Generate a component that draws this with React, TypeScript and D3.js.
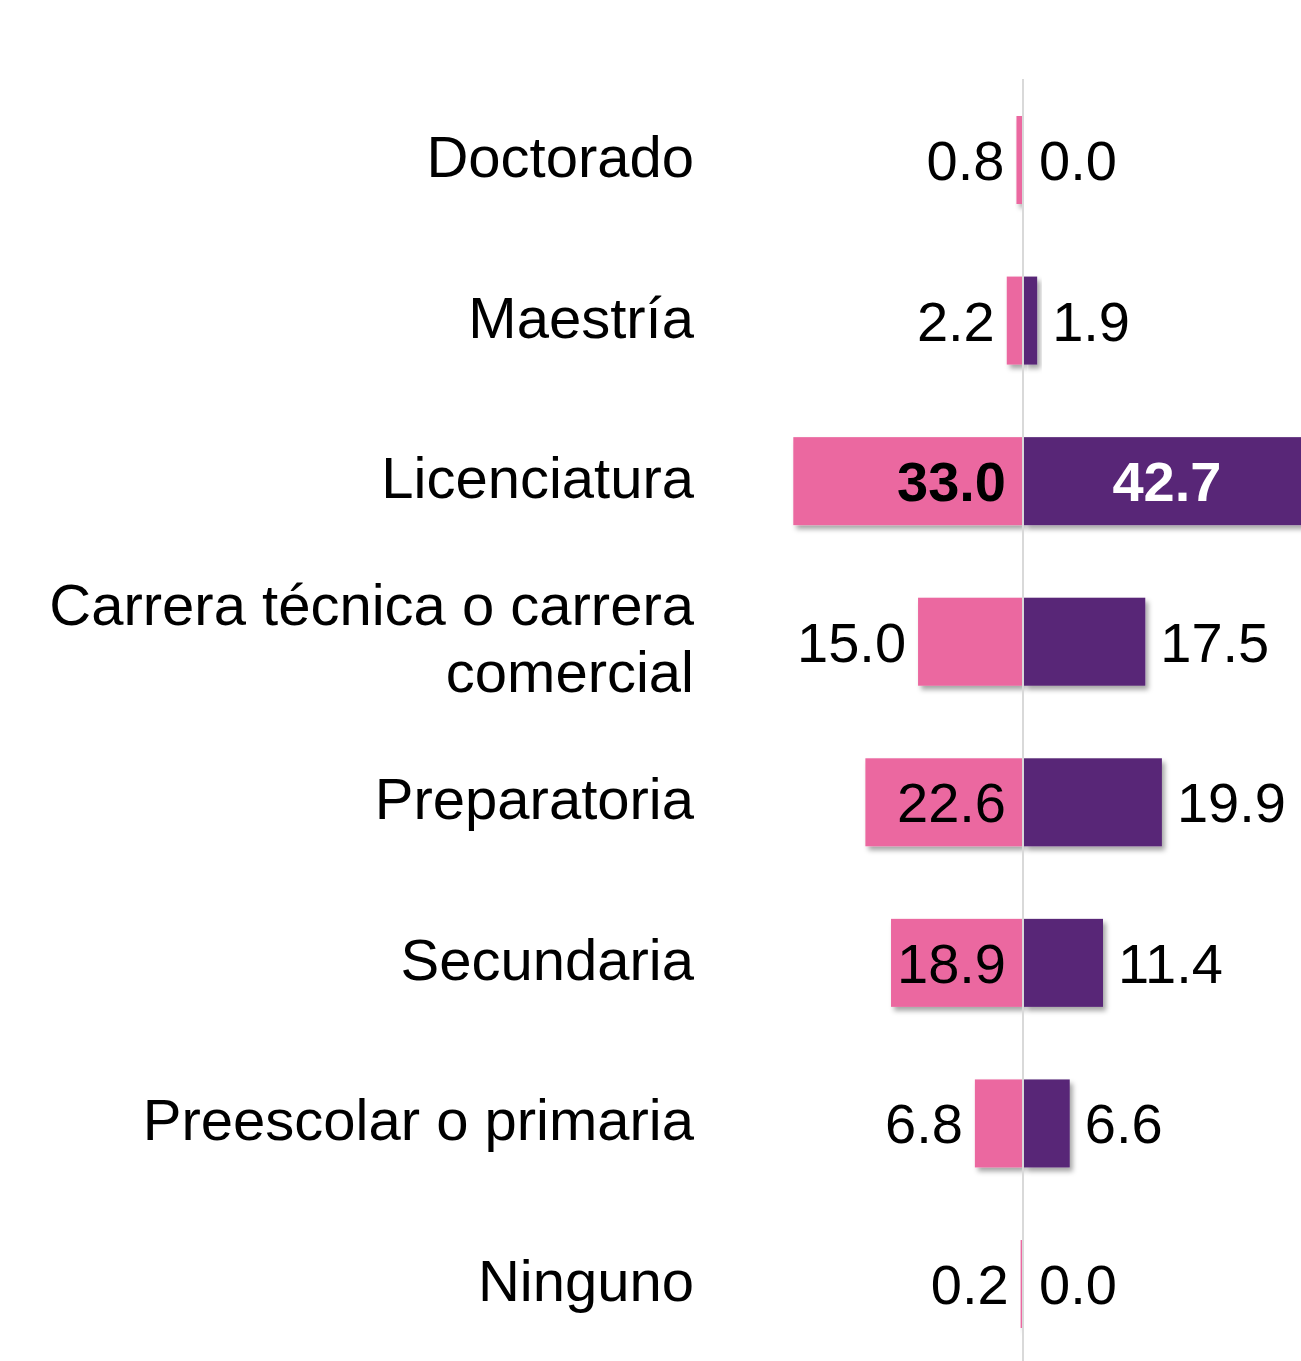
import React from "react";
import * as d3 from "d3";

const categories = [
  "Doctorado",
  "Maestría",
  "Licenciatura",
  "Carrera técnica o carrera comercial",
  "Preparatoria",
  "Secundaria",
  "Preescolar o primaria",
  "Ninguno",
];
const categoryLines = [
  ["Doctorado"],
  ["Maestría"],
  ["Licenciatura"],
  ["Carrera técnica o carrera", "comercial"],
  ["Preparatoria"],
  ["Secundaria"],
  ["Preescolar o primaria"],
  ["Ninguno"],
];
const pinkValues = [0.8, 2.2, 33.0, 15.0, 22.6, 18.9, 6.8, 0.2];
const purpleValues = [0.0, 1.9, 42.7, 17.5, 19.9, 11.4, 6.6, 0.0];
const pinkInside = [false, false, true, false, true, true, false, false];
const purpleInside = [false, false, true, false, false, false, false, false];
const highlighted = [false, false, true, false, false, false, false, false];

const W = 1301;
const H = 1361;
const CX = 1023;
const PINK = "#EB68A0";
const PURPLE = "#582777";
const FONT = "'Liberation Sans', Arial, Helvetica, sans-serif";

export default function App() {
  const y = d3.scalePoint<string>().domain(categories).range([160, 1284]);
  const xLeft = d3.scaleLinear().domain([0, 40]).range([CX - 1, CX - 1 - 40 * 6.93]);
  const xRight = d3.scaleLinear().domain([0, 40]).range([CX + 1, CX + 1 + 40 * 6.93]);
  const barH = 88;

  return (
    <svg
      width={W}
      height={H}
      style={{ position: "absolute", left: 0, top: 0, display: "block", background: "#fff" }}
      fontFamily={FONT}
    >
      <defs>
        <filter id="shadow" x="-20%" y="-20%" width="150%" height="150%">
          <feDropShadow dx="3" dy="4" stdDeviation="2.5" floodColor="#000" floodOpacity="0.35" />
        </filter>
      </defs>

      {categories.map((c, i) => {
        const cy = y(c)!;
        const lines = categoryLines[i];
        const base = cy + 17;
        const spacing = 67;
        const start = base - ((lines.length - 1) * spacing) / 2;
        return (
          <text key={"cat" + i} textAnchor="end" fontSize={58} fill="#000">
            {lines.map((l, j) => (
              <tspan key={j} x={694} y={start + j * spacing}>
                {l}
              </tspan>
            ))}
          </text>
        );
      })}

      {categories.map((c, i) => {
        const cy = y(c)!;
        const v = pinkValues[i];
        const x0 = xLeft(v);
        const w = xLeft(0) - x0;
        return w > 0 ? (
          <rect
            key={"pk" + i}
            x={x0}
            y={cy - barH / 2}
            width={w}
            height={barH}
            fill={PINK}
            filter="url(#shadow)"
          />
        ) : null;
      })}
      {categories.map((c, i) => {
        const cy = y(c)!;
        const v = purpleValues[i];
        const x0 = xRight(0);
        const w = xRight(v) - x0;
        return w > 0 ? (
          <rect
            key={"pu" + i}
            x={x0}
            y={cy - barH / 2}
            width={w}
            height={barH}
            fill={PURPLE}
            filter="url(#shadow)"
          />
        ) : null;
      })}

      <line x1={CX} x2={CX} y1={79} y2={H} stroke="#d9d9d9" strokeWidth={2} />

      {categories.map((c, i) => {
        const cy = y(c)!;
        const v = pinkValues[i];
        const inside = pinkInside[i];
        const xPos = inside ? CX - 17 : xLeft(v) - 12;
        return (
          <text
            key={"pl" + i}
            x={xPos}
            y={cy + 20}
            textAnchor="end"
            fontSize={56}
            fontWeight={highlighted[i] ? "bold" : "normal"}
            fill="#000"
          >
            {v.toFixed(1)}
          </text>
        );
      })}
      {categories.map((c, i) => {
        const cy = y(c)!;
        const v = purpleValues[i];
        const inside = purpleInside[i];
        const xPos = inside ? (xRight(0) + xRight(v)) / 2 - 5 : xRight(v) + 15;
        return (
          <text
            key={"ul" + i}
            x={xPos}
            y={cy + 20}
            textAnchor={inside ? "middle" : "start"}
            fontSize={56}
            fontWeight={highlighted[i] ? "bold" : "normal"}
            fill={inside ? "#fff" : "#000"}
          >
            {v.toFixed(1)}
          </text>
        );
      })}
    </svg>
  );
}
